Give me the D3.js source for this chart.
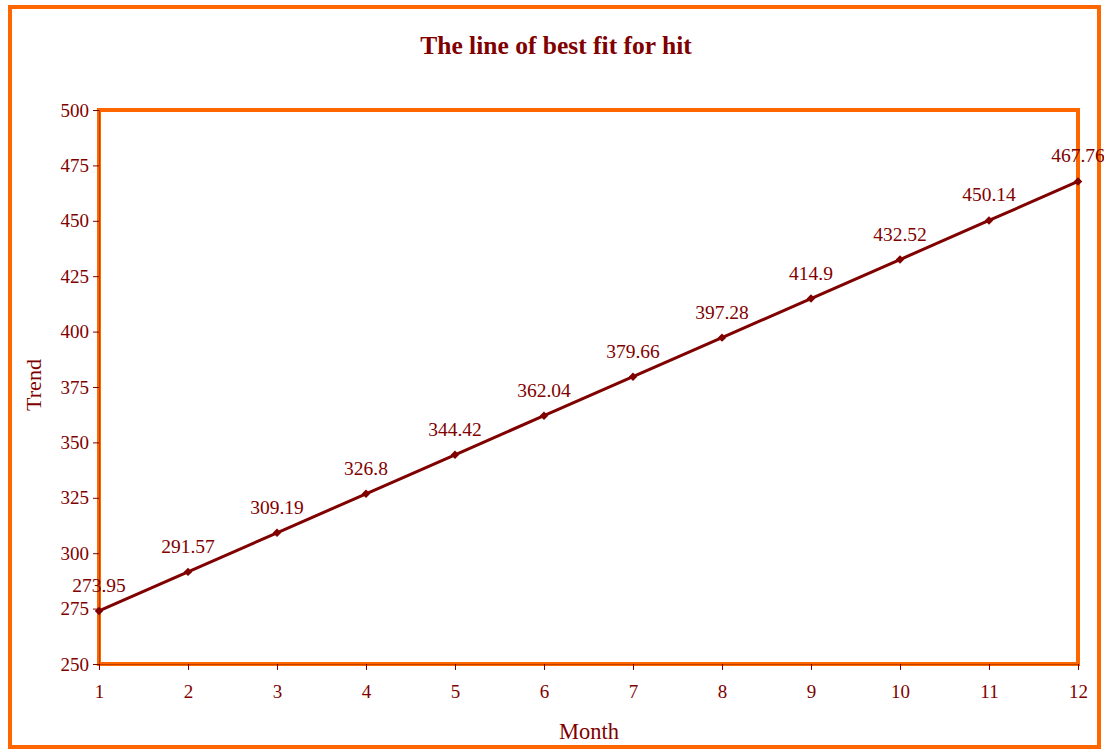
<!DOCTYPE html>
<html><head><meta charset="utf-8">
<script src="https://cdn.jsdelivr.net/npm/d3@7"></script>
<style>body{margin:0;background:#fff}svg{display:block}</style>
</head><body>
<script>
const months = [1,2,3,4,5,6,7,8,9,10,11,12];
const trend = [273.95,291.57,309.19,326.8,344.42,362.04,379.66,397.28,414.9,432.52,450.14,467.76];
const yTicks = [250,275,300,325,350,375,400,425,450,475,500];
const title = "The line of best fit for hit";
const xTitle = "Month", yTitle = "Trend";

const W=1104,H=749, maroon="#800000", orange="#FF6600";
const svg=d3.select("body").append("svg").attr("width",W).attr("height",H)
  .style("font-family","'Liberation Serif','Times New Roman',serif");
svg.append("rect").attr("x",10).attr("y",7).attr("width",1089).attr("height",740)
  .attr("fill","#fff").attr("stroke",orange).attr("stroke-width",4);

const x=d3.scaleLinear().domain([1,12]).range([99,1078]);
const y=d3.scaleLinear().domain([250,500]).range([664,110]);

svg.append("rect").attr("x",99).attr("y",110).attr("width",979).attr("height",554)
  .attr("fill","none").attr("stroke",orange).attr("stroke-width",4);

const ya=svg.append("g").attr("transform","translate(99,0)")
  .call(d3.axisLeft(y).tickValues(yTicks).tickSize(6).tickPadding(4));
const xa=svg.append("g").attr("transform","translate(0,664)")
  .call(d3.axisBottom(x).tickValues(months).tickSize(6).tickPadding(15));
[ya,xa].forEach(a=>{
  a.select(".domain").attr("stroke","#C04000").attr("stroke-width",1);
  a.selectAll(".tick line").attr("stroke",maroon);
  a.selectAll(".tick text").attr("fill",maroon).style("font-size","19px")
   .style("font-family","'Liberation Serif','Times New Roman',serif");
});

const line=d3.line().x((d,i)=>x(months[i])).y(d=>y(d));
svg.append("path").datum(trend).attr("d",line).attr("fill","none")
  .attr("stroke",maroon).attr("stroke-width",3);
svg.selectAll(".mk").data(trend).enter().append("path")
  .attr("d",d3.symbol(d3.symbolSquare,36)())
  .attr("transform",(d,i)=>`translate(${x(months[i])},${y(d)}) rotate(45)`)
  .attr("fill",maroon);
svg.selectAll(".lb").data(trend).enter().append("text")
  .attr("x",(d,i)=>x(months[i])).attr("y",d=>y(d)-19)
  .attr("text-anchor","middle").attr("fill",maroon).style("font-size","19.5px")
  .text(d=>d);

svg.append("text").attr("x",556).attr("y",54).attr("text-anchor","middle")
  .attr("fill",maroon).style("font-size","25.5px").style("font-weight","bold").text(title);
svg.append("text").attr("x",589).attr("y",739).attr("text-anchor","middle")
  .attr("fill",maroon).style("font-size","22.5px").text(xTitle);
svg.append("text").attr("transform","translate(41,385) rotate(-90)").attr("text-anchor","middle")
  .attr("fill",maroon).style("font-size","22px").text(yTitle);
</script>
</body></html>
